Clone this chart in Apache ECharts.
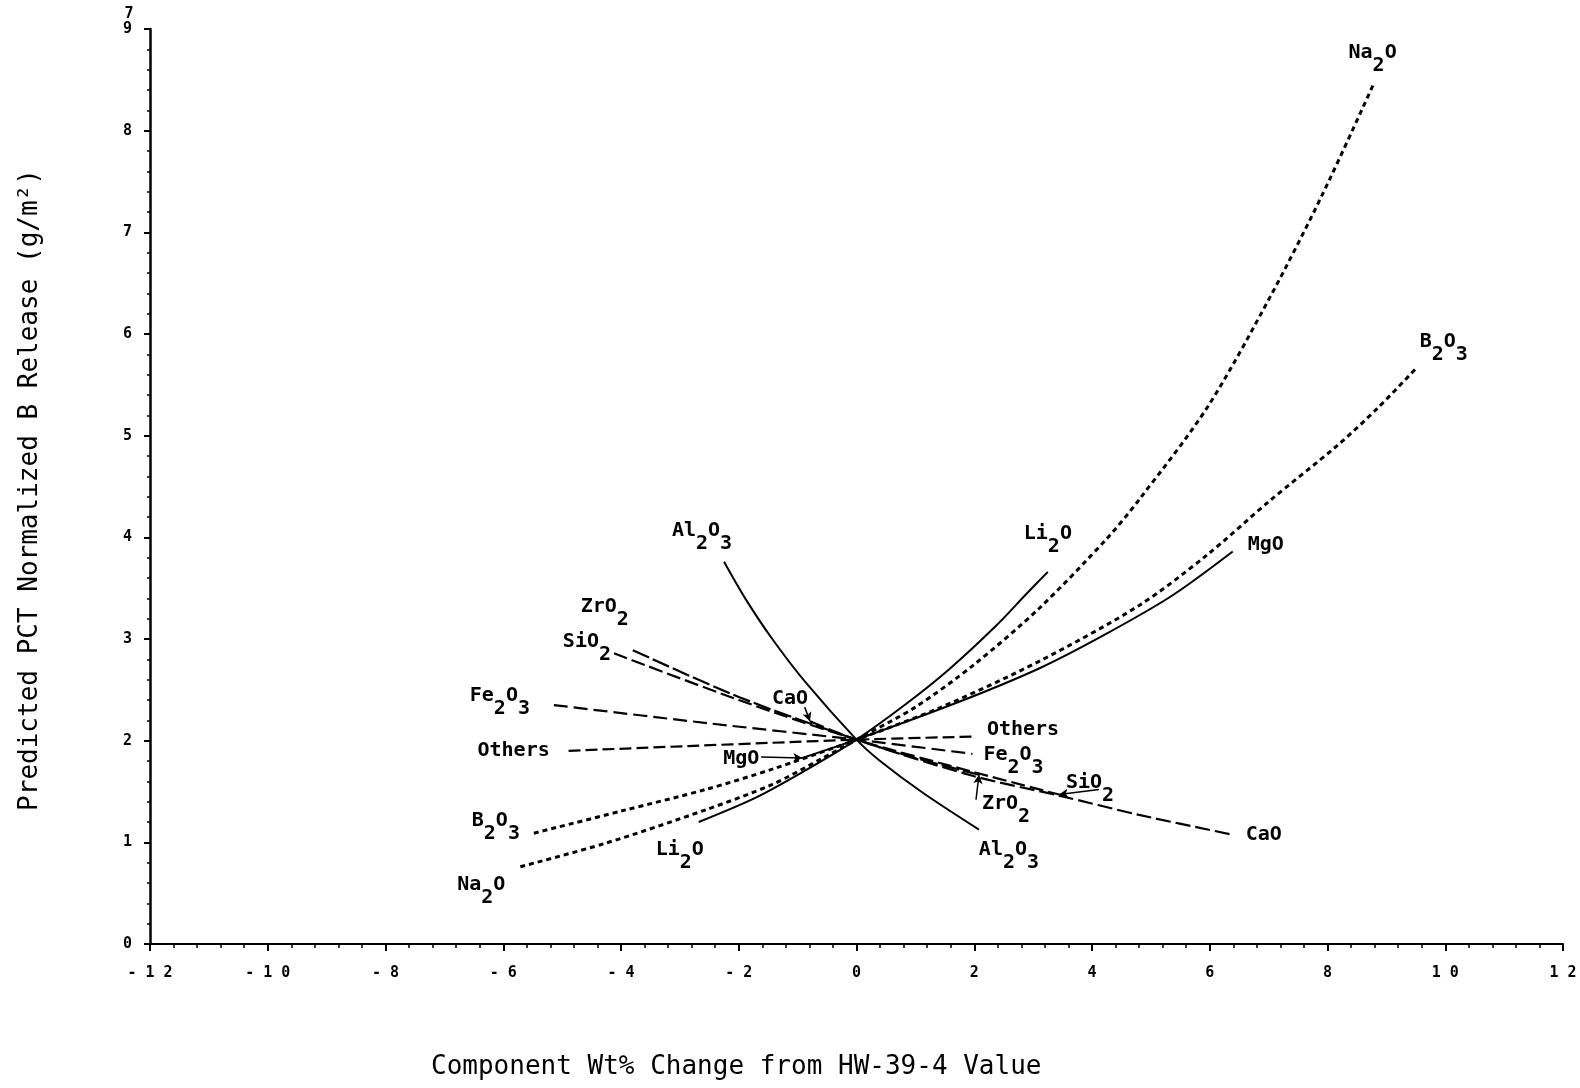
<!DOCTYPE html>
<html>
<head>
<meta charset="utf-8">
<script src="https://cdn.jsdelivr.net/npm/echarts@6/dist/echarts.min.js"></script>
<style>
  html, body { margin: 0; padding: 0; background: #fff; }
  #chart { width: 1580px; height: 1088px; }
</style>
</head>
<body>
<div id="chart"></div>
<script>
// Predicted PCT normalized B release vs. component wt% change (x = wt% change, y = g/m2)
const xTickValues = [-12, -10, -8, -6, -4, -2, 0, 2, 4, 6, 8, 10, 12];
const yTickValues = [0, 1, 2, 3, 4, 5, 6, 7, 8, 9];

const na2oX = [-5.71, -4.27, -2.56, -1.43, -0.6, 0, 1.0, 2.0, 3.1, 4.24, 4.8, 5.96, 7.04, 7.92, 8.80];
const na2oY = [0.76, 0.99, 1.32, 1.57, 1.82, 2.01, 2.33, 2.75, 3.30, 3.98, 4.37, 5.28, 6.38, 7.38, 8.48];

const b2o3X = [-5.48, -3.98, -2.56, -1.43, 0, 1.40, 3.10, 4.80, 5.94, 7.02, 8.16, 8.85, 9.50];
const b2o3Y = [1.09, 1.31, 1.52, 1.72, 2.01, 2.32, 2.78, 3.33, 3.82, 4.36, 4.90, 5.27, 5.66];

const li2oX = [-2.68, -1.71, -0.86, 0, 0.84, 1.57, 2.37, 2.88, 3.25];
const li2oY = [1.20, 1.44, 1.71, 2.01, 2.36, 2.70, 3.13, 3.44, 3.66];

const mgoX = [-0.92, 0, 1.69, 3.10, 4.24, 5.37, 6.39];
const mgoY = [1.83, 2.01, 2.37, 2.71, 3.05, 3.43, 3.86];

const al2o3X = [-2.25, -1.88, -1.43, -0.86, 0, 0.38, 1.12, 2.08];
const al2o3Y = [3.76, 3.39, 3.00, 2.57, 2.01, 1.81, 1.49, 1.125];

const zro2X = [-3.80, -2.0, 0, 1.0, 2.08];
const zro2Y = [2.89, 2.43, 2.01, 1.83, 1.665];

const sio2X = [-4.12, -2.0, 0, 2.0, 3.44];
const sio2Y = [2.86, 2.40, 2.01, 1.69, 1.47];

const caoX = [-0.79, 0, 2.0, 3.44, 4.80, 6.39];
const caoY = [2.19, 2.01, 1.65, 1.46, 1.27, 1.075];

const fe2o3X = [-5.14, -2.5, 0, 1.97];
const fe2o3Y = [2.35, 2.17, 2.01, 1.87];

const othersX = [-4.89, 0, 2.03];
const othersY = [1.90, 2.01, 2.04];

const MONO = '"DejaVu Sans Mono", "Liberation Mono", monospace';

// Chemical formula -> rich text with lowered digits
function formula(txt) {
  return txt.split(/(\d)/).filter(s => s.length).map(s => /\d/.test(s) ? '{s|' + s + '}' : '{n|' + s + '}').join('');
}
const richStyles = {
  n: { fontFamily: MONO, fontSize: 20, fontWeight: 'bold', color: '#000' },
  s: { fontFamily: MONO, fontSize: 20, fontWeight: 'bold', color: '#000', padding: [26, 0, 0, 0] }
};

function endLabel(text, offset) {
  return {
    show: true,
    position: 'inside',
    offset: offset,
    align: 'center',
    verticalAlign: 'middle',
    formatter: () => formula(text),
    rich: richStyles
  };
}

function curve(name, xs, ys, style, startLabel, endLbl, arrows) {
  const data = xs.map((x, i) => {
    const item = { value: [x, ys[i]] };
    if (i === 0 && startLabel) item.label = endLabel(startLabel[0], startLabel[1]);
    if (i === xs.length - 1 && endLbl) item.label = endLabel(endLbl[0], endLbl[1]);
    return item;
  });
  const s = {
    name: name,
    type: 'line',
    data: data,
    smooth: 0.3,
    symbol: 'circle',
    symbolSize: 0,
    showSymbol: true,
    itemStyle: { color: '#000' },
    label: { show: false },
    lineStyle: Object.assign({ color: '#000', cap: 'butt' }, style),
    silent: true,
    animation: false,
    z: 3
  };
  if (arrows) {
    s.markLine = {
      silent: true,
      animation: false,
      symbol: ['none', 'arrow'],
      symbolSize: [7, 9],
      label: { show: false },
      data: arrows.map(a => [
        { coord: a.from, lineStyle: { color: '#000', width: 1.5, type: 'solid', curveness: a.curve || 0 } },
        { coord: a.to }
      ])
    };
  }
  return s;
}

const dotted = { type: [5, 4], width: 3 };
const solid = { type: 'solid', width: 2 };

const series = [
  curve('Na2O', na2oX, na2oY, dotted,
    ['Na2O', [-39, 18]], ['Na2O', [-2, -29]]),
  curve('B2O3', b2o3X, b2o3Y, dotted,
    ['B2O3', [-38, -12]], ['B2O3', [28, -27]]),
  curve('Li2O', li2oX, li2oY, solid,
    ['Li2O', [-19, 28]], ['Li2O', [0, -38]]),
  curve('MgO', mgoX, mgoY, solid,
    ['MgO', [-61, 1]], ['MgO', [33, -7]],
    [{ from: [-1.62, 1.84], to: [mgoX[0], mgoY[0]], curve: -0.1 }]),
  curve('Al2O3', al2o3X, al2o3Y, solid,
    ['Al2O3', [-22, -31]], ['Al2O3', [30, 20]]),
  curve('ZrO2', zro2X, zro2Y, { type: [18, 4], width: 2.2 },
    ['ZrO2', [-28, -43]], ['ZrO2', [27, 29]],
    [{ from: [2.03, 1.42], to: [zro2X[zro2X.length - 1], zro2Y[zro2Y.length - 1]], curve: 0.5 }]),
  curve('SiO2', sio2X, sio2Y, { type: [14, 5], width: 2.2 },
    ['SiO2', [-27, -11]], ['SiO2', [31, -12]],
    [{ from: [4.12, 1.52], to: [sio2X[sio2X.length - 1], sio2Y[sio2Y.length - 1]], curve: 0 }]),
  curve('CaO', caoX, caoY, { type: [15, 5], width: 2.2 },
    ['CaO', [-20, -23]], ['CaO', [31, 0]],
    [{ from: [-0.88, 2.33], to: [caoX[0], caoY[0]], curve: -0.4 }]),
  curve('Fe2O3', fe2o3X, fe2o3Y, { type: [14, 6], width: 2.2 },
    ['Fe2O3', [-54, -9]], ['Fe2O3', [41, 1]]),
  curve('Others', othersX, othersY, { type: [12, 5], width: 2.2 },
    ['Others', [-55, 0]], ['Others', [47, -7]])
];

const chart = echarts.init(document.getElementById('chart'), null, { renderer: 'canvas' });
chart.setOption({
  backgroundColor: '#fff',
  animation: false,
  grid: { left: 150, right: 17, top: 29, bottom: 144 },
  xAxis: {
    type: 'value',
    min: xTickValues[0],
    max: xTickValues[xTickValues.length - 1],
    interval: 2,
    axisLine: { show: true, onZero: false, lineStyle: { color: '#000', width: 2 } },
    axisTick: { show: true, inside: false, length: 7, lineStyle: { color: '#000', width: 2 } },
    minorTick: { show: true, splitNumber: 5, length: 4, lineStyle: { color: '#000', width: 1.5 } },
    splitLine: { show: false },
    minorSplitLine: { show: false },
    axisLabel: {
      margin: 22,
      color: '#000',
      fontFamily: MONO,
      fontWeight: 'bold',
      fontSize: 15,
      formatter: v => String(v).split('').join(' ')
    }
  },
  yAxis: {
    type: 'value',
    min: yTickValues[0],
    max: yTickValues[yTickValues.length - 1],
    interval: 1,
    axisLine: { show: true, onZero: false, lineStyle: { color: '#000', width: 2.5 } },
    axisTick: { show: true, inside: false, length: 6, lineStyle: { color: '#000', width: 2 } },
    minorTick: { show: true, splitNumber: 5, length: 3, lineStyle: { color: '#000', width: 1.5 } },
    splitLine: { show: false },
    minorSplitLine: { show: false },
    axisLabel: {
      margin: 18,
      color: '#000',
      fontFamily: MONO,
      fontWeight: 'bold',
      fontSize: 15
    }
  },
  graphic: [
    {
      type: 'text',
      left: 431,
      top: 1054,
      style: {
        text: 'Component Wt% Change from HW-39-4 Value',
        font: '26px ' + MONO,
        fill: '#000'
      }
    },
    {
      type: 'text',
      x: 30,
      y: 490,
      rotation: Math.PI / 2,
      style: {
        text: 'Predicted PCT Normalized B Release (g/m²)',
        font: '26px ' + MONO,
        fill: '#000',
        align: 'center',
        verticalAlign: 'middle'
      }
    },
    {
      type: 'text',
      x: 129,
      y: 14,
      style: {
        text: '7',
        font: 'bold 15px ' + MONO,
        fill: '#000',
        align: 'center',
        verticalAlign: 'middle'
      }
    }
  ],
  series: series
});
</script>
</body>
</html>
